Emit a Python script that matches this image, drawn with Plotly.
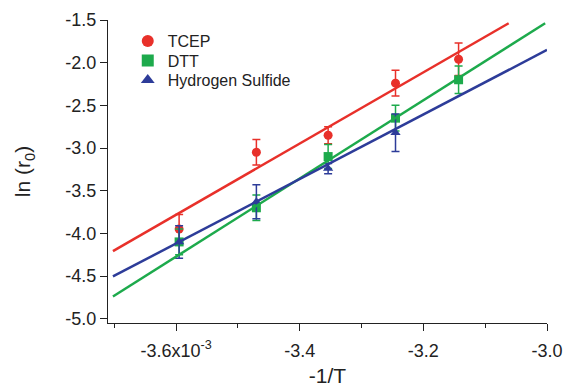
import plotly.graph_objects as go

# Data (x = -1/T in 1/K)
x_tcep = [-3.595e-3, -3.470e-3, -3.354e-3, -3.245e-3, -3.143e-3]
y_tcep = [-3.95, -3.05, -2.85, -2.24, -1.96]
e_tcep = [0.17, 0.15, 0.10, 0.15, 0.19]

x_dtt = [-3.595e-3, -3.470e-3, -3.354e-3, -3.245e-3, -3.143e-3]
y_dtt = [-4.10, -3.70, -3.10, -2.65, -2.20]
e_dtt = [0.15, 0.15, 0.14, 0.15, 0.16]

x_h2s = [-3.595e-3, -3.470e-3, -3.354e-3, -3.245e-3]
y_h2s = [-4.10, -3.63, -3.24, -2.82]
e_h2s = [0.19, 0.20, 0.06, 0.22]

# linear fits: ln(r0) = intercept + slope * x
fit_names = ["TCEP", "DTT", "Hydrogen Sulfide"]
fit_slope = [4170.0, 4580.0, 3780.0]
fit_intercept = [11.23, 12.215, 9.489]
fit_xmin = [-3.702e-3, -3.702e-3, -3.702e-3]
fit_xmax = [-3.062e-3, -3.003e-3, -3.0e-3]

xtick_vals = [-3.6e-3, -3.4e-3, -3.2e-3, -3.0e-3]
xtick_text = ["-3.6x10<sup>-3</sup>", "-3.4", "-3.2", "-3.0"]
ytick_vals = [-5.0, -4.5, -4.0, -3.5, -3.0, -2.5, -2.0, -1.5]

RED = "#e8302a"
GREEN = "#1daa4c"
BLUE = "#2d3c99"
colors = [RED, GREEN, BLUE]

fig = go.Figure()

series = [
    ("TCEP", x_tcep, y_tcep, e_tcep, RED, "circle", "legend"),
    ("DTT", x_dtt, y_dtt, e_dtt, GREEN, "square", "legend2"),
    ("Hydrogen Sulfide", x_h2s, y_h2s, e_h2s, BLUE, "triangle-up", "legend3"),
]
for name, xs, ys, es, c, sym, lg in series:
    fig.add_trace(go.Scatter(
        x=xs, y=ys, mode="markers", name=name, legend=lg,
        marker=dict(symbol=sym, size=9, color=c),
        error_y=dict(type="data", array=es, visible=True, color=c,
                     thickness=1.5, width=4),
    ))

for i in range(3):
    xs = [fit_xmin[i], fit_xmax[i]]
    ys = [fit_intercept[i] + fit_slope[i] * v for v in xs]
    fig.add_trace(go.Scatter(
        x=xs, y=ys, mode="lines", showlegend=False,
        line=dict(color=colors[i], width=2.5), hoverinfo="skip",
    ))

leg_common = dict(x=0.045, xanchor="left", yanchor="middle",
                  bgcolor="rgba(0,0,0,0)", font=dict(size=16),
                  itemsizing="constant")

fig.update_layout(
    width=568, height=387,
    margin=dict(l=108, r=21, t=20, b=64),
    paper_bgcolor="white", plot_bgcolor="white",
    font=dict(family="Liberation Sans, Arial, sans-serif", color="#222", size=15),
    showlegend=True,
    legend=dict(y=0.9307, **leg_common),
    legend2=dict(y=0.8663, **leg_common),
    legend3=dict(y=0.802, **leg_common),
    xaxis=dict(
        range=[-3.710e-3, -3.0e-3], showgrid=False, zeroline=False,
        showline=True, linecolor="#222", linewidth=1.2, automargin=False,
        ticks="outside", ticklen=7, tickwidth=1.2, tickcolor="#222",
        tickvals=xtick_vals, ticktext=xtick_text, ticklabelstandoff=4,
        minor=dict(ticks="outside", ticklen=4, tickwidth=1.2, tickcolor="#222",
                   dtick=1e-4, tick0=-3.7e-3),
        title=dict(text="-1/T", font=dict(size=21), standoff=9),
        tickfont=dict(size=18),
    ),
    yaxis=dict(
        range=[-5.05, -1.5], showgrid=False, zeroline=False,
        showline=True, linecolor="#222", linewidth=1.2, automargin=False,
        ticks="outside", ticklen=7, tickwidth=1.2, tickcolor="#222",
        tickvals=ytick_vals, ticktext=[f"{v:.1f}" for v in ytick_vals],
        title=dict(text="ln (r<sub>0</sub>)", font=dict(size=21), standoff=28),
        tickfont=dict(size=18),
    ),
)

fig.write_html("out.html")
